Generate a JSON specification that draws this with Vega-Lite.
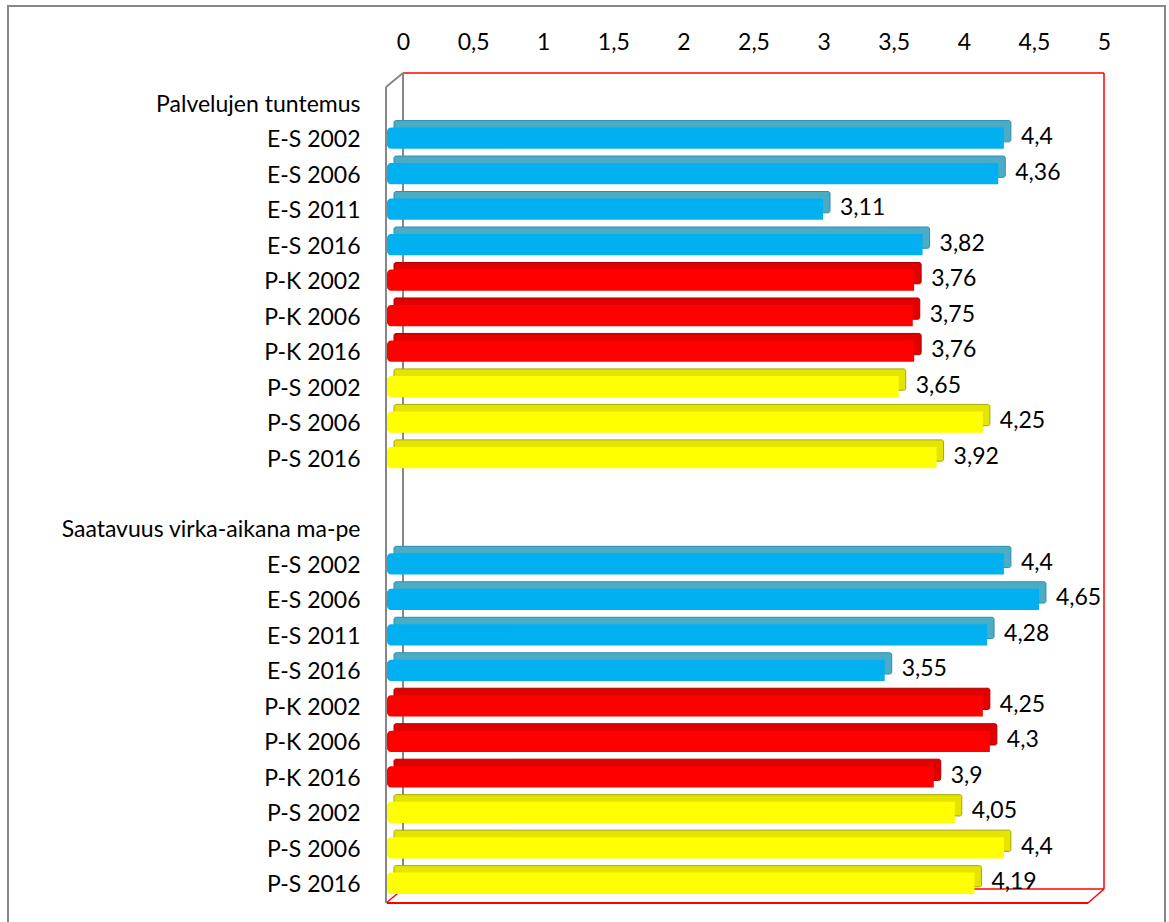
{
  "$schema": "https://vega.github.io/schema/vega-lite/v6.json",
  "width": 1157,
  "height": 920,
  "autosize": "none",
  "padding": {"left": 8, "top": 6, "right": 4, "bottom": 0},
  "background": "white",
  "config": {
    "view": {"stroke": "#878787", "strokeWidth": 2},
    "font": "Lato",
    "locale": {"number": {"decimal": ",", "thousands": "\u00a0", "grouping": [3], "currency": ["", "\u00a0€"]}}
  },
  "datasets": {
    "bars": [
      {"row": "02|E-S 2002", "group": "E-S", "value": 4.4},
      {"row": "03|E-S 2006", "group": "E-S", "value": 4.36},
      {"row": "04|E-S 2011", "group": "E-S", "value": 3.11},
      {"row": "05|E-S 2016", "group": "E-S", "value": 3.82},
      {"row": "06|P-K 2002", "group": "P-K", "value": 3.76},
      {"row": "07|P-K 2006", "group": "P-K", "value": 3.75},
      {"row": "08|P-K 2016", "group": "P-K", "value": 3.76},
      {"row": "09|P-S 2002", "group": "P-S", "value": 3.65},
      {"row": "10|P-S 2006", "group": "P-S", "value": 4.25},
      {"row": "11|P-S 2016", "group": "P-S", "value": 3.92},
      {"row": "14|E-S 2002", "group": "E-S", "value": 4.4},
      {"row": "15|E-S 2006", "group": "E-S", "value": 4.65},
      {"row": "16|E-S 2011", "group": "E-S", "value": 4.28},
      {"row": "17|E-S 2016", "group": "E-S", "value": 3.55},
      {"row": "18|P-K 2002", "group": "P-K", "value": 4.25},
      {"row": "19|P-K 2006", "group": "P-K", "value": 4.3},
      {"row": "20|P-K 2016", "group": "P-K", "value": 3.9},
      {"row": "21|P-S 2002", "group": "P-S", "value": 4.05},
      {"row": "22|P-S 2006", "group": "P-S", "value": 4.4},
      {"row": "23|P-S 2016", "group": "P-S", "value": 4.19}
    ],
    "frame": [{"t": "01|Palvelujen tuntemus", "b": "23|P-S 2016"}]
  },
  "layer": [
    {
      "data": {"name": "frame"},
      "mark": {"type": "rule", "color": "#FF0000", "strokeWidth": 1.5, "xOffset": 16, "x2Offset": 16, "yOffset": -14},
      "encoding": {
        "x": {"datum": 0, "type": "quantitative", "scale": {"domain": [0, 5], "range": [379, 1080], "nice": false, "zero": true}},
        "x2": {"datum": 5},
        "y": {"field": "t", "type": "nominal", "bandPosition": 0,
          "scale": {"domain": ["01|Palvelujen tuntemus", "02|E-S 2002", "03|E-S 2006", "04|E-S 2011", "05|E-S 2016", "06|P-K 2002", "07|P-K 2006", "08|P-K 2016", "09|P-S 2002", "10|P-S 2006", "11|P-S 2016", "12|", "13|Saatavuus virka-aikana ma-pe", "14|E-S 2002", "15|E-S 2006", "16|E-S 2011", "17|E-S 2016", "18|P-K 2002", "19|P-K 2006", "20|P-K 2016", "21|P-S 2002", "22|P-S 2006", "23|P-S 2016"], "range": [81, 897], "paddingInner": 0, "paddingOuter": 0}}
      }
    },
    {
      "data": {"name": "frame"},
      "mark": {"type": "rule", "color": "#FF0000", "strokeWidth": 1.5, "xOffset": 16, "x2Offset": 16, "yOffset": -14},
      "encoding": {
        "x": {"datum": 0, "type": "quantitative"},
        "x2": {"datum": 5},
        "y": {"field": "b", "type": "nominal", "bandPosition": 1}
      }
    },
    {
      "data": {"name": "frame"},
      "mark": {"type": "rule", "color": "#FF0000", "strokeWidth": 1.5, "xOffset": 16, "yOffset": -14, "y2Offset": 3.7},
      "encoding": {
        "x": {"datum": 5, "type": "quantitative"},
        "y": {"field": "t", "type": "nominal", "bandPosition": 0},
        "y2": {"field": "b"}
      }
    },
    {
      "data": {"name": "frame"},
      "mark": {"type": "rule", "color": "#878787", "strokeWidth": 2, "xOffset": 16, "yOffset": -14, "y2Offset": 3.7},
      "encoding": {
        "x": {"datum": 0, "type": "quantitative"},
        "y": {"field": "t", "type": "nominal", "bandPosition": 0},
        "y2": {"field": "b"}
      }
    },
    {
      "data": {"name": "frame"},
      "mark": {"type": "rule", "color": "#878787", "strokeWidth": 2, "xOffset": -1, "x2Offset": 16, "y2Offset": -31.7},
      "encoding": {
        "x": {"datum": 0, "type": "quantitative"},
        "x2": {"datum": 0},
        "y": {"field": "t", "type": "nominal", "bandPosition": 0},
        "y2": {"field": "t"}
      }
    },
    {
      "data": {"name": "frame"},
      "mark": {"type": "rule", "color": "#FF0000", "strokeWidth": 1.5, "xOffset": -1, "x2Offset": 16, "y2Offset": 3.7},
      "encoding": {
        "x": {"datum": 0, "type": "quantitative"},
        "x2": {"datum": 0},
        "y": {"field": "b", "type": "nominal", "bandPosition": 1},
        "y2": {"field": "b"}
      }
    },
    {
      "data": {"name": "frame"},
      "mark": {"type": "rule", "color": "#FF0000", "strokeWidth": 1.5, "x2Offset": 16, "y2Offset": 3.7},
      "encoding": {
        "x": {"datum": 5, "type": "quantitative"},
        "x2": {"datum": 5},
        "y": {"field": "b", "type": "nominal", "bandPosition": 1},
        "y2": {"field": "b"}
      }
    },
    {
      "data": {"name": "bars"},
      "mark": {"type": "bar", "height": {"band": 0.6}, "xOffset": 7, "x2Offset": 7, "yOffset": -9, "cornerRadius": 2, "strokeWidth": 1},
      "encoding": {
        "y": {"field": "row", "type": "nominal", "sort": null,
          "axis": {"orient": "left", "offset": -362, "labelPadding": 10, "ticks": false, "tickSize": 0, "domain": false, "grid": false, "title": null, "labelExpr": "substring(datum.value, 3)", "labelFontSize": 23, "labelFont": "Lato", "labelColor": "#000000", "labelLimit": 400, "labelAlign": "right", "labelBaseline": "middle"}},
        "x": {"field": "value", "type": "quantitative", "stack": null,
          "axis": {"orient": "top", "offset": -50, "labelOffset": 16, "labelPadding": 2, "values": [0, 0.5, 1, 1.5, 2, 2.5, 3, 3.5, 4, 4.5, 5], "format": "~r", "ticks": false, "tickSize": 0, "domain": false, "grid": false, "title": null, "labelFontSize": 23, "labelFont": "Lato", "labelColor": "#000000", "labelFlush": false}},
        "x2": {"datum": 0},
        "color": {"field": "group", "type": "nominal", "scale": {"domain": ["E-S", "P-K", "P-S"], "range": ["#4BACC6", "#E00000", "#E4E400"]}, "legend": null},
        "stroke": {"field": "group", "type": "nominal", "scale": {"domain": ["E-S", "P-K", "P-S"], "range": ["#2F8DB0", "#B00000", "#A8A800"]}, "legend": null}
      }
    },
    {
      "data": {"name": "bars"},
      "mark": {"type": "bar", "height": {"band": 0.6}, "yOffset": -2, "cornerRadiusTopLeft": 4, "cornerRadiusBottomLeft": 4},
      "encoding": {
        "y": {"field": "row", "type": "nominal", "sort": null},
        "x": {"field": "value", "type": "quantitative", "stack": null},
        "x2": {"datum": 0},
        "fill": {"field": "group", "type": "nominal", "scale": {"domain": ["E-S", "P-K", "P-S"], "range": ["#00B0F0", "#FF0000", "#FFFF00"]}, "legend": null}
      }
    },
    {
      "data": {"name": "bars"},
      "mark": {"type": "text", "align": "left", "baseline": "middle", "dx": 17, "dy": -3, "fontSize": 23, "font": "Lato", "color": "#000000"},
      "encoding": {
        "y": {"field": "row", "type": "nominal", "sort": null},
        "x": {"field": "value", "type": "quantitative"},
        "text": {"field": "value", "type": "quantitative", "format": "~r"}
      }
    },
    {
      "data": {"name": "frame"},
      "mark": {"type": "rule", "color": "#FF0000", "strokeWidth": 2},
      "encoding": {
        "x": {"datum": 0, "type": "quantitative"},
        "x2": {"datum": 5},
        "y": {"field": "b", "type": "nominal", "bandPosition": 1}
      }
    },
    {
      "data": {"name": "frame"},
      "mark": {"type": "rule", "color": "#878787", "strokeWidth": 2, "xOffset": -1, "y2Offset": 17.7},
      "encoding": {
        "x": {"datum": 0, "type": "quantitative"},
        "y": {"field": "t", "type": "nominal", "bandPosition": 0},
        "y2": {"field": "b"}
      }
    }
  ]
}
